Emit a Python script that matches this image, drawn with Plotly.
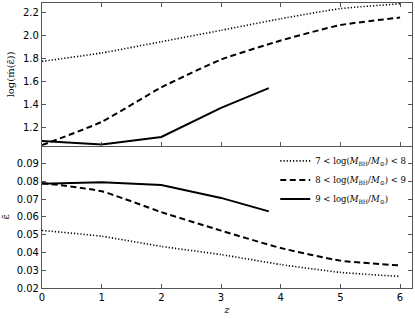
import plotly.graph_objects as go

z_full = [0, 1, 2, 3, 4, 5, 6]
z_high = [0, 1, 2, 3, 3.8]

# top panel: log(mdot)
mdot_low = [1.779, 1.852, 1.950, 2.049, 2.150, 2.238, 2.280]
mdot_mid = [1.049, 1.252, 1.552, 1.794, 1.960, 2.095, 2.160]
mdot_high = [1.085, 1.055, 1.120, 1.374, 1.546]

# bottom panel: mean efficiency
eps_low = [0.0524, 0.0491, 0.0434, 0.0388, 0.0332, 0.0288, 0.0265]
eps_mid = [0.0791, 0.0744, 0.0627, 0.0523, 0.0425, 0.0354, 0.0327]
eps_high = [0.0786, 0.0795, 0.0780, 0.0707, 0.0631]

names = [
    "7 &lt; log(<i>M</i><sub>BH</sub>/<i>M</i><sub>⊙</sub>) &lt; 8",
    "8 &lt; log(<i>M</i><sub>BH</sub>/<i>M</i><sub>⊙</sub>) &lt; 9",
    "9 &lt; log(<i>M</i><sub>BH</sub>/<i>M</i><sub>⊙</sub>)",
]

fig = go.Figure()
styles = [("1.2px,2px", 1.6, "spline"), ("6px,3.5px", 2.0, "spline"), ("solid", 2.0, "linear")]

top = [(z_full, mdot_low), (z_full, mdot_mid), (z_high, mdot_high)]
bot = [(z_full, eps_low), (z_full, eps_mid), (z_high, eps_high)]

for i, (x, y) in enumerate(top):
    fig.add_trace(go.Scatter(x=x, y=y, mode="lines", xaxis="x2", yaxis="y2",
                             line=dict(color="black", dash=styles[i][0], width=styles[i][1],
                                       shape=styles[i][2], smoothing=0.5),
                             showlegend=False))
for i, (x, y) in enumerate(bot):
    fig.add_trace(go.Scatter(x=x, y=y, mode="lines", xaxis="x", yaxis="y",
                             name=names[i],
                             line=dict(color="black", dash=styles[i][0], width=styles[i][1],
                                       shape=styles[i][2], smoothing=0.5)))

split = 0.4988
axcommon = dict(showline=True, linecolor="#555", linewidth=1.2,
                ticks="inside", ticklen=4, tickcolor="#555", showgrid=False, zeroline=False,
                tickfont=dict(family="DejaVu Sans", size=10, color="black"))

fig.update_layout(
    width=415, height=319,
    margin=dict(l=42, r=3, t=3, b=31, autoexpand=False),
    paper_bgcolor="white", plot_bgcolor="white",
    xaxis=dict(domain=[0, 1], anchor="y", range=[0, 6.2], tickvals=[0, 1, 2, 3, 4, 5, 6],
               mirror=False,
               title=dict(text="<i>z</i>", font=dict(family="DejaVu Serif", size=10, color="black"), standoff=3),
               **axcommon),
    yaxis=dict(domain=[0, split], anchor="x", range=[0.02, 0.1], mirror="allticks",
               tickvals=[0.02, 0.03, 0.04, 0.05, 0.06, 0.07, 0.08, 0.09], tickformat=".2f",
               title=dict(text="ε̄", font=dict(family="DejaVu Serif", size=10, color="black"), standoff=6),
               **axcommon),
    xaxis2=dict(domain=[0, 1], anchor="y2", range=[0, 6.2], tickvals=[0, 1, 2, 3, 4, 5, 6],
                mirror="allticks", showticklabels=False, **axcommon),
    yaxis2=dict(domain=[split, 1], anchor="x2", range=[1.043, 2.287], mirror="allticks",
                tickvals=[1.2, 1.4, 1.6, 1.8, 2.0, 2.2], tickformat=".1f",
                title=dict(text="log(ṁ(ε̄))", font=dict(family="DejaVu Serif", size=10, color="black"), standoff=6),
                **axcommon),
    legend=dict(x=0.998, y=split - 0.002, xanchor="right", yanchor="top",
                bgcolor="rgba(0,0,0,0)", font=dict(family="DejaVu Serif", size=8.5, color="black"),
                tracegroupgap=0, itemwidth=30),
)

fig.write_html("out.html", config={"displayModeBar": False},
               post_script="document.body.style.margin='0';")
